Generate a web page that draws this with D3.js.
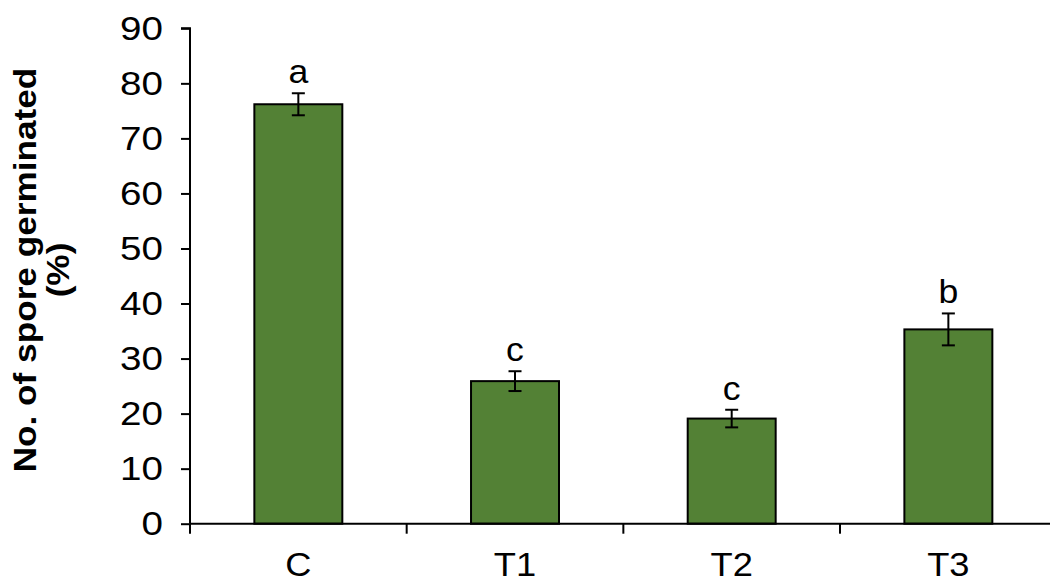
<!DOCTYPE html>
<html>
<head>
<meta charset="utf-8">
<script src="https://cdn.jsdelivr.net/npm/d3@7"></script>
<style>
  html, body { margin: 0; padding: 0; background: #fff; }
  svg { display: block; }
  text { font-family: "Liberation Sans", Arial, sans-serif; }
</style>
</head>
<body>
<svg id="chart" width="1050" height="579"></svg>
<script>
const categories = ["C", "T1", "T2", "T3"];
const values = [76.2, 25.9, 19.1, 35.3];
const errors = [2.0, 1.8, 1.6, 2.9];
const letters = ["a", "c", "c", "b"];
const yTicks = [0, 10, 20, 30, 40, 50, 60, 70, 80, 90];
const yTitle = ["No. of spore germinated", "(%)"];

const svg = d3.select("#chart");
const plotLeft = 190, plotRight = 1056.7, plotTop = 28.3, plotBottom = 523.7;

const x = d3.scaleBand().domain(categories).range([plotLeft, plotRight]).padding(0);
const y = d3.scaleLinear().domain([0, 90]).range([plotBottom, plotTop]);
const barW = x.bandwidth() * 0.406;

// bars
svg.append("g").selectAll("rect").data(categories).join("rect")
  .attr("x", (d) => x(d) + (x.bandwidth() - barW) / 2)
  .attr("y", (d, i) => y(values[i]))
  .attr("width", barW)
  .attr("height", (d, i) => y(0) - y(values[i]))
  .attr("fill", "#538135")
  .attr("stroke", "#000")
  .attr("stroke-width", 2);

// error bars
const eb = svg.append("g").attr("stroke", "#000").attr("stroke-width", 2);
categories.forEach((c, i) => {
  const cx = x(c) + x.bandwidth() / 2;
  const y1 = y(values[i] + errors[i]), y2 = y(values[i] - errors[i]);
  eb.append("line").attr("x1", cx).attr("x2", cx).attr("y1", y1).attr("y2", y2);
  eb.append("line").attr("x1", cx - 6.5).attr("x2", cx + 6.5).attr("y1", y1).attr("y2", y1);
  eb.append("line").attr("x1", cx - 6.5).attr("x2", cx + 6.5).attr("y1", y2).attr("y2", y2);
});

// letters
svg.append("g").selectAll("text").data(categories).join("text")
  .attr("transform", (d, i) => `translate(${x(d) + x.bandwidth() / 2},${y(values[i] + errors[i]) - 10}) scale(1.08,1)`)
  .attr("text-anchor", "middle")
  .attr("font-size", 33)
  .attr("fill", "#000")
  .text((d, i) => letters[i]);

// y axis
const yAxis = d3.axisLeft(y).tickValues(yTicks).tickSize(9).tickPadding(12).tickFormat(d3.format("d"));
const gy = svg.append("g").attr("transform", `translate(${plotLeft},0)`).call(yAxis);
gy.select(".domain").attr("stroke", "#000").attr("stroke-width", 2).attr("d", `M-9,${plotTop}H0V${plotBottom}`);
gy.selectAll(".tick line").attr("stroke", "#000").attr("stroke-width", 2);
gy.selectAll(".tick text").attr("font-size", 33).attr("fill", "#000")
  .attr("font-family", "'Liberation Sans', Arial, sans-serif")
  .attr("x", 0)
  .attr("dy", "0.33em")
  .attr("transform", "translate(-27,0) scale(1.17,1)");

// x axis
const xAxis = d3.axisBottom(x).tickSize(0).tickPadding(30);
const gx = svg.append("g").attr("transform", `translate(0,${plotBottom})`).call(xAxis);
gx.select(".domain").attr("stroke", "#000").attr("stroke-width", 2).attr("d", `M${plotLeft},0H1050`);
gx.selectAll(".tick text").attr("font-size", 33).attr("fill", "#000")
  .attr("font-family", "'Liberation Sans', Arial, sans-serif")
  .attr("y", 29)
  .attr("transform", "scale(1.1,1)");
// category boundary ticks
const bounds = categories.map((c) => x(c)).concat([plotRight]);
gx.append("g").selectAll("line").data(bounds).join("line")
  .attr("x1", (d) => d).attr("x2", (d) => d)
  .attr("y1", 0).attr("y2", 10)
  .attr("stroke", "#000").attr("stroke-width", 2);

// y title
const t = svg.append("text")
  .attr("transform", `translate(36,${(plotTop + plotBottom) / 2 - 6}) rotate(-90) scale(1.1,1)`)
  .attr("text-anchor", "middle")
  .attr("font-size", 32)
  .attr("font-weight", "bold")
  .attr("fill", "#000");
t.append("tspan").attr("x", 0).attr("dy", 0).text(yTitle[0]);
t.append("tspan").attr("x", 0).attr("dy", 33).text(yTitle[1]);
</script>
</body>
</html>
